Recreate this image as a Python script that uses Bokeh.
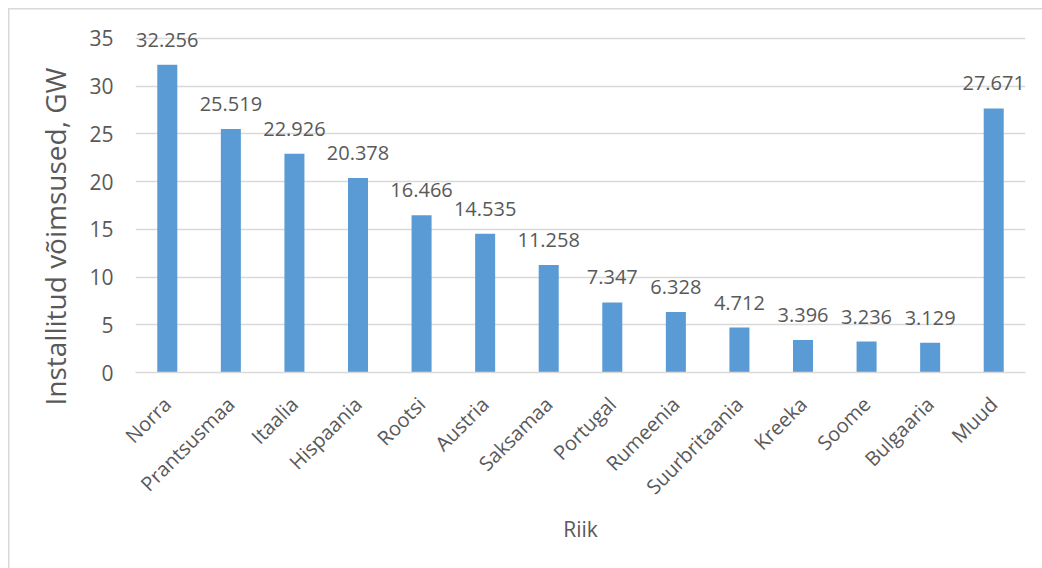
import math
from bokeh.plotting import figure
from bokeh.models import ColumnDataSource, LabelSet, Title, FixedTicker, Range1d
from bokeh.core.properties import value
from bokeh.embed import file_html
from bokeh.resources import INLINE

countries = ["Norra", "Prantsusmaa", "Itaalia", "Hispaania", "Rootsi", "Austria", "Saksamaa",
             "Portugal", "Rumeenia", "Suurbritaania", "Kreeka", "Soome", "Bulgaaria", "Muud"]
values = [32.256, 25.519, 22.926, 20.378, 16.466, 14.535, 11.258,
          7.347, 6.328, 4.712, 3.396, 3.236, 3.129, 27.671]
value_labels = ["32.256", "25.519", "22.926", "20.378", "16.466", "14.535", "11.258",
                "7.347", "6.328", "4.712", "3.396", "3.236", "3.129", "27.671"]
y_ticks = [0, 5, 10, 15, 20, 25, 30, 35]

FONT = "Open Sans"
TXT = "#595959"
GRID = "#d9d9d9"

src = ColumnDataSource(dict(c=countries, v=values, lab=value_labels))

# frame top at y=10 px, bottom at 372 px; value 35 lands at 38 px
p = figure(x_range=countries, y_range=Range1d(0, 37.93), width=1042, height=568,
           output_backend="svg", toolbar_location=None,
           min_border_left=135, min_border_right=17, min_border_top=10, min_border_bottom=196)
p.outline_line_color = None
p.background_fill_color = "white"
p.border_fill_alpha = 0
p.styles = {
    "background-color": "white",
    "background-image": "linear-gradient(#d9d9d9,#d9d9d9), linear-gradient(#d9d9d9,#d9d9d9)",
    "background-position": "8px 8px, 8px 8px",
    "background-size": "100% 1.5px, 1.5px 100%",
    "background-repeat": "no-repeat, no-repeat",
}

p.vbar(x="c", top="v", width=0.315, source=src, fill_color="#5b9bd5", line_color=None)

p.x_range.range_padding = 0
p.xgrid.grid_line_color = None
p.ygrid.grid_line_color = GRID
p.ygrid.grid_line_width = 1.5

p.yaxis.ticker = FixedTicker(ticks=y_ticks)
p.yaxis.axis_line_color = None
p.yaxis.major_tick_line_color = None
p.yaxis.minor_tick_line_color = None
p.yaxis.major_tick_out = 0
p.yaxis.major_label_standoff = 22
p.yaxis.major_label_text_font = FONT
p.yaxis.major_label_text_font_size = "21px"
p.yaxis.major_label_text_color = TXT

p.xaxis.axis_line_color = GRID
p.xaxis.axis_line_width = 1.5
p.xaxis.major_tick_line_color = None
p.xaxis.major_tick_out = 0
p.xaxis.major_label_orientation = math.pi / 4
p.xaxis.major_label_standoff = 28
p.xaxis.major_label_text_font = FONT
p.xaxis.major_label_text_font_size = "20px"
p.xaxis.major_label_text_color = TXT
p.xaxis.axis_label = "Riik"
p.xaxis.axis_label_text_font = FONT
p.xaxis.axis_label_text_font_size = "21px"
p.xaxis.axis_label_text_font_style = "normal"
p.xaxis.axis_label_text_color = TXT
p.xaxis.axis_label_standoff = 3

labels = LabelSet(x="c", y="v", text="lab", source=src, y_offset=25,
                  text_align="center", text_baseline="middle",
                  text_font=value(FONT), text_font_size=value("20px"), text_color=TXT)
p.add_layout(labels)

ytitle = Title(text="Installitud võimsused, GW", align="left", offset=-33, standoff=26,
               text_font=FONT, text_font_size="28px", text_font_style="normal",
               text_color=TXT)
p.add_layout(ytitle, "left")

open("out.html", "w").write(file_html(p, INLINE))
